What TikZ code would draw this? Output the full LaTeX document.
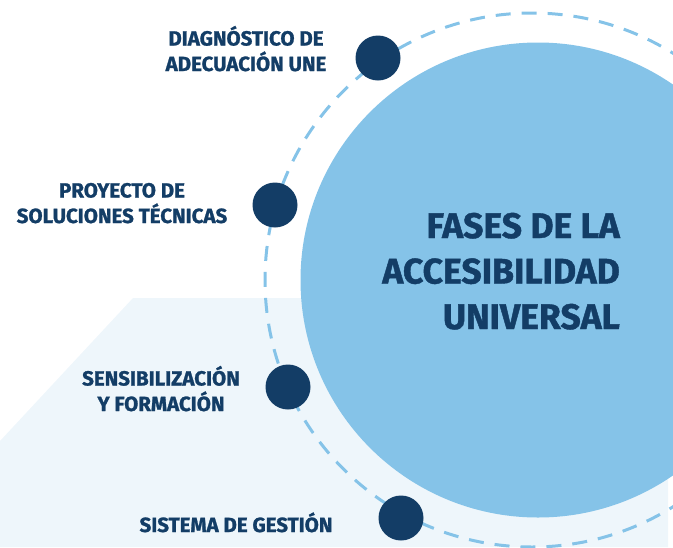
\documentclass[tikz,border=0pt]{standalone}
\usepackage{fontspec}
\setmainfont{Fira Sans}[BoldFeatures={FakeBold=1.2}]
\definecolor{navy}{HTML}{133D66}
\definecolor{skyblue}{HTML}{85C3E8}
\definecolor{palebg}{HTML}{EEF6FB}
\begin{document}
\begin{tikzpicture}[x=1pt,y=-1pt,
  dot/.style={circle,fill=navy,minimum size=45pt,inner sep=0pt},
  lbl/.style={text=navy,font=\bfseries\fontsize{20.5}{25.5}\selectfont,align=center,inner sep=0pt},
  ttl/.style={text=navy,font=\bfseries\fontsize{35.5}{45.5}\selectfont,align=right,inner sep=0pt},
  dashring/.style={draw=skyblue,line width=3pt,dash pattern=on 15pt off 11pt}]
\useasboundingbox (0,0) rectangle (673,547);
\begin{scope}
\clip (0,0) rectangle (673,547);
\fill[palebg] (133,298) -- (668,298) -- (668,547) -- (0,547) -- (0,441) -- cycle;
\fill[skyblue] (538,280) circle[radius=237.5];
\draw[dashring] (532,280) circle[radius=267];
\end{scope}
\node[dot] (d1) at (378,58) {};
\node[dot] (d2) at (275,205) {};
\node[dot] (d3) at (288,387) {};
\node[dot] (d4) at (401,518) {};
\node[lbl,anchor=base] (t1) at (246,71) {DIAGNÓSTICO DE\\ADECUACIÓN UNE};
\node[lbl,anchor=base] (t2) at (122,223) {PROYECTO DE\\SOLUCIONES TÉCNICAS};
\node[lbl,anchor=base] (t3) at (161,411) {SENSIBILIZACIÓN\\Y FORMACIÓN};
\node[lbl,anchor=base] (t4) at (236,532) {SISTEMA DE GESTIÓN};
\node[ttl,anchor=base east] (title) at (620,329) {FASES DE LA\\ACCESIBILIDAD\\UNIVERSAL};
\end{tikzpicture}
\end{document}
